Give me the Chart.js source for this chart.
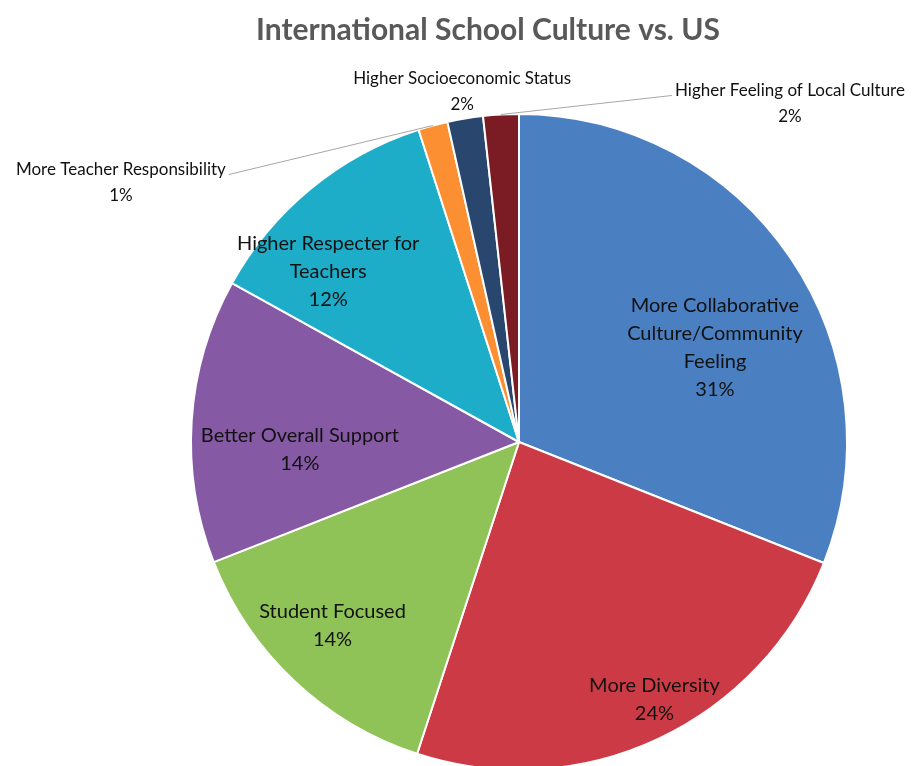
<!DOCTYPE html>
<html>
<head>
<meta charset="utf-8">
<title>International School Culture vs. US</title>
<script src="https://cdn.jsdelivr.net/npm/chart.js@4"></script>
<style>
  html, body { margin: 0; padding: 0; background: #fff; overflow: hidden; }
  #culture-chart { display: block; }
</style>
</head>
<body>
<canvas id="culture-chart" width="912" height="800"></canvas>
<script>
// survey answers, going clockwise from 12 o'clock
const categories = [
  "More Collaborative Culture/Community Feeling",
  "More Diversity",
  "Student Focused",
  "Better Overall Support",
  "Higher Respecter for Teachers",
  "More Teacher Responsibility",
  "Higher Socioeconomic Status",
  "Higher Feeling of Local Culture",
];
const shares = [31, 24, 14, 14, 12, 1.45, 1.75, 1.75];
const sliceColors = [
  "#4a7fc1", "#cc3b45", "#8fc257", "#8659a5",
  "#1eadc9", "#fd8f33", "#29466e", "#7b1b23",
];

const chartTitle = "International School Culture vs. US";

// wrap a label into lines no wider than maxWidth
function wrapText(ctx, text, maxWidth) {
  const words = text.split(" ");
  const lines = [];
  let line = words[0];
  for (let i = 1; i < words.length; i++) {
    const test = line + " " + words[i];
    if (ctx.measureText(test).width > maxWidth) {
      lines.push(line);
      line = words[i];
    } else {
      line = test;
    }
  }
  lines.push(line);
  return lines;
}

const sliceLabels = {
  id: "sliceLabels",
  afterDatasetsDraw(chart, args, opts) {
    const ctx = chart.ctx;
    const meta = chart.getDatasetMeta(0);
    const values = chart.data.datasets[0].data;
    const total = values.reduce((a, b) => a + b, 0);

    meta.data.forEach((arc, i) => {
      const place = opts.placement[i];
      const { x, y, startAngle, endAngle, outerRadius } = arc.getProps(
        ["x", "y", "startAngle", "endAngle", "outerRadius"], true
      );
      const mid = (startAngle + endAngle) / 2;
      const pct = Math.round((values[i] / total) * 100) + "%";
      const inside = place.mode === "in";
      const size = inside ? opts.insideSize : opts.outsideSize;
      const lineHeight = inside ? 28 : 26;

      ctx.save();
      ctx.font = size + "px " + opts.family;
      ctx.fillStyle = "#111";
      ctx.textAlign = "center";
      ctx.textBaseline = "middle";

      const lines = wrapText(ctx, chart.data.labels[i], place.wrap || 400);
      lines.push(pct);

      let cx, cy;
      if (inside) {
        cx = x + Math.cos(mid) * outerRadius * place.frac + (place.dx || 0);
        cy = y + Math.sin(mid) * outerRadius * place.frac + (place.dy || 0);
      } else {
        const ex = x + Math.cos(mid) * outerRadius;
        const ey = y + Math.sin(mid) * outerRadius;
        cx = ex + place.dx;
        cy = ey + place.dy;
        if (place.leader) {
          // leader line runs from the slice edge to the side of the first text line
          const firstY = cy - ((lines.length - 1) * lineHeight) / 2;
          const w = ctx.measureText(lines[0]).width;
          const tx = place.leader === "left" ? cx + w / 2 + 3 : cx - w / 2 - 3;
          ctx.strokeStyle = "#a6a6a6";
          ctx.lineWidth = 1;
          ctx.beginPath();
          ctx.moveTo(ex, ey);
          ctx.lineTo(tx, firstY + 5);
          ctx.stroke();
        }
      }

      const top = cy - ((lines.length - 1) * lineHeight) / 2;
      lines.forEach((line, k) => ctx.fillText(line, cx, top + k * lineHeight));
      ctx.restore();
    });
  },
};

const titleText = {
  id: "titleText",
  afterDraw(chart, args, opts) {
    const ctx = chart.ctx;
    ctx.save();
    ctx.font = "bold 30px " + opts.family;
    ctx.fillStyle = "#595959";
    ctx.textAlign = "center";
    ctx.textBaseline = "middle";
    ctx.fillText(opts.text, opts.x, opts.y);
    ctx.restore();
  },
};

new Chart(document.querySelector("#culture-chart").getContext("2d"), {
  type: "pie",
  data: {
    labels: categories,
    datasets: [
      {
        data: shares,
        backgroundColor: sliceColors,
        borderColor: "#ffffff",
        borderWidth: 2,
      },
    ],
  },
  options: {
    responsive: false,
    animation: false,
    layout: { padding: { left: 190, right: 64, top: 113, bottom: 29 } },
    plugins: {
      legend: { display: false },
      tooltip: { enabled: false },
      title: { display: false },
      titleText: { text: chartTitle, x: 488, y: 30, family: "Lato, 'Open Sans', sans-serif" },
      sliceLabels: {
        family: "Lato, 'Open Sans', sans-serif",
        insideSize: 20,
        outsideSize: 17,
        placement: [
          { mode: "in", frac: 0.7, dx: 6, dy: 35, wrap: 195 },
          { mode: "in", frac: 0.7, dx: 38, dy: 50 },
          { mode: "in", frac: 0.7, dx: -29, dy: 16 },
          { mode: "in", frac: 0.7, dx: 10, dy: 23, wrap: 280 },
          { mode: "in", frac: 0.7, dx: -45, dy: 7, wrap: 195 },
          { mode: "out", dx: -312, dy: 57, leader: "left" },
          { mode: "out", dx: -3, dy: -27 },
          { mode: "out", dx: 289, dy: -11, leader: "right" },
        ],
      },
    },
  },
  plugins: [sliceLabels, titleText],
});
</script>
</body>
</html>
